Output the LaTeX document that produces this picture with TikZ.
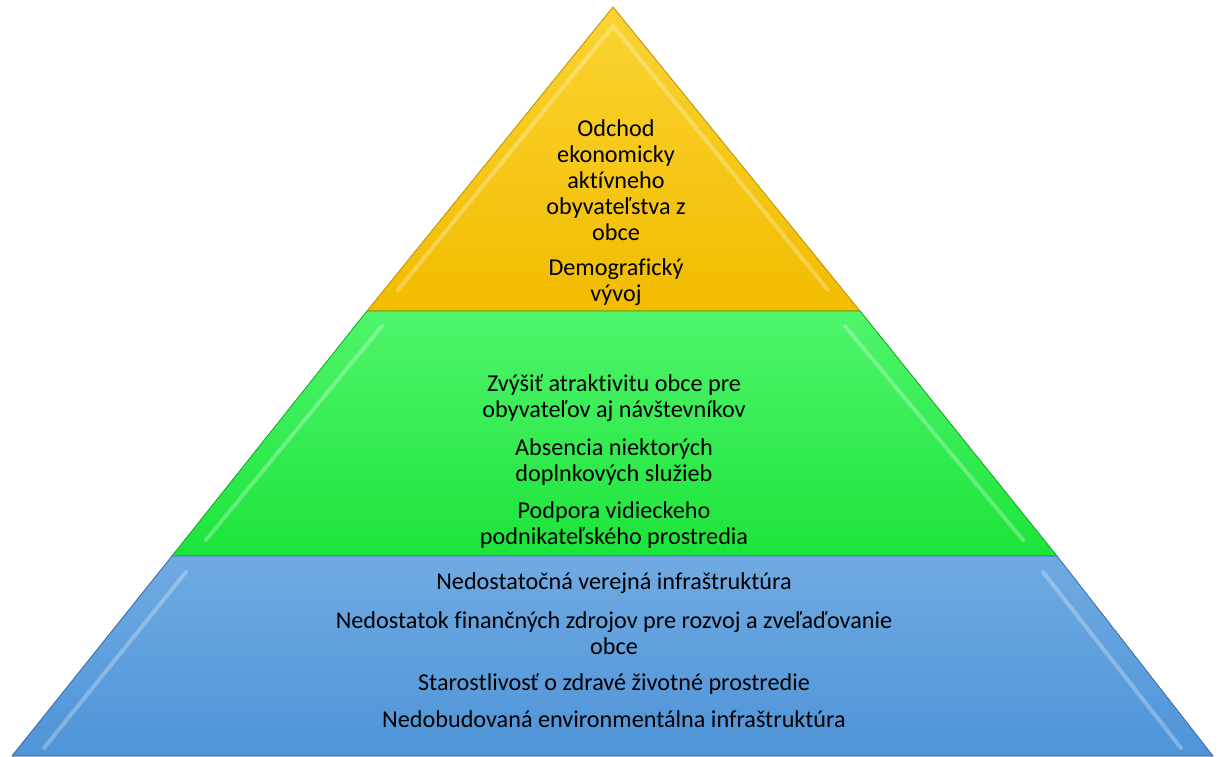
\documentclass[tikz,border=0pt]{standalone}
\usepackage{fontspec}
\setmainfont{Carlito}[Ligatures=NoCommon]
\definecolor{ytop}{RGB}{250,212,50}
\definecolor{ybot}{RGB}{242,188,0}
\definecolor{yedge}{RGB}{190,150,0}
\definecolor{gtop}{RGB}{80,245,108}
\definecolor{gbot}{RGB}{28,228,58}
\definecolor{gedge}{RGB}{20,170,40}
\definecolor{btop}{RGB}{112,170,226}
\definecolor{bbot}{RGB}{78,148,216}
\definecolor{bedge}{RGB}{60,110,170}
\begin{document}
\begin{tikzpicture}[x=1pt,y=-1pt,
  tiertxt/.style={align=center,font=\fontsize{24.2}{26}\selectfont,text=black,inner sep=0pt},
  edge/.style={draw=#1,line width=0.8pt},
  bevel/.style={draw=white,draw opacity=0.28,line width=4pt,line join=round,line cap=round}]
\useasboundingbox (0,0) rectangle (1219,756);
% yellow tier
\coordinate (ya) at (613,7);
\coordinate (yl) at (367,311);
\coordinate (yr) at (860,311);
\fill[top color=ytop,bottom color=ybot] (ya) -- (yl) -- (yr) -- cycle;
\draw[bevel] (398,290) -- (613,26) -- (828,290);
\draw[edge=yedge] (ya) -- (yl) -- (yr) -- cycle;
% green tier
\coordinate (gl) at (172,556);
\coordinate (gr) at (1057,556);
\fill[top color=gtop,bottom color=gbot] (yl) -- (gl) -- (gr) -- (yr) -- cycle;
\draw[bevel] (382,326) -- (206,540);
\draw[bevel] (845,326) -- (1023,540);
\draw[edge=gedge] (yl) -- (gl) -- (gr) -- (yr) -- cycle;
% blue tier
\coordinate (bl) at (12,756);
\coordinate (br) at (1213,756);
\fill[top color=btop,bottom color=bbot] (gl) -- (bl) -- (br) -- (gr) -- cycle;
\draw[bevel] (186,572) -- (44,748);
\draw[bevel] (1043,572) -- (1181,748);
\draw[edge=bedge] (gl) -- (bl) -- (br) -- (gr) -- cycle;
% texts
\node[tiertxt] (t1) at (616,180) {Odchod\\ekonomicky\\aktívneho\\obyvateľstva z\\obce};
\node[tiertxt] (t2) at (616,282) {Demografický\\vývoj};
\node[tiertxt] (t3) at (614,398) {Zvýšiť atraktivitu obce pre\\obyvateľov aj návštevníkov};
\node[tiertxt] (t4) at (614,462) {Absencia niektorých\\doplnkových služieb};
\node[tiertxt] (t5) at (614,525) {Podpora vidieckeho\\podnikateľského prostredia};
\node[tiertxt] (t6) at (614,583) {Nedostatočná verejná infraštruktúra};
\node[tiertxt] (t7) at (614,633) {Nedostatok finančných zdrojov pre rozvoj a zveľaďovanie\\obce};
\node[tiertxt] (t8) at (614,684) {Starostlivosť o zdravé životné prostredie};
\node[tiertxt] (t9) at (614,719) {Nedobudovaná environmentálna infraštruktúra};
\end{tikzpicture}
\end{document}
